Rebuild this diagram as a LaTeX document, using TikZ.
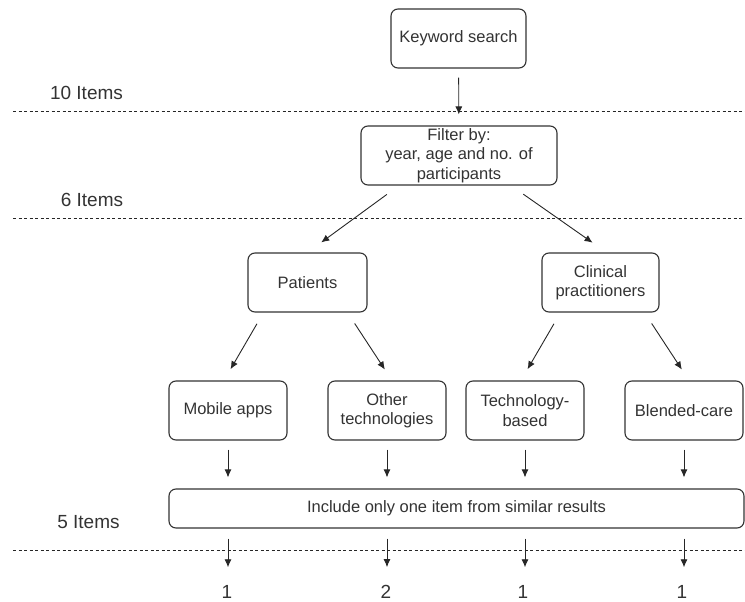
\documentclass[tikz,border=0pt]{standalone}
\usepackage{fontspec}
\setmainfont{Liberation Sans}
\usetikzlibrary{arrows.meta}

\begin{document}
\begin{tikzpicture}[x=1pt, y=-1pt, >={Latex[length=8pt,width=7pt]},
  default/.style={draw=black!80, line width=1.1pt, rounded corners=7pt, fill=white, solid,
    align=center, text=black!80, inner sep=0pt, font=\fontsize{16.5}{19.5}\selectfont},
  count/.style={text=black!80, inner sep=0pt, font=\fontsize{19}{22}\selectfont},
  level/.style={draw=black!85, line width=0.8pt, dash pattern=on 3pt off 2.5pt},
  link/.style={->, draw=black!85, line width=0.9pt}]
\useasboundingbox (0,0) rectangle (745,602);
\draw [level] (13,111) -- (745,111) ;
\draw [level] (13,218) -- (745,218) ;
\draw [level] (13,550) -- (745,550) ;
\node[count] (L10) at (86.5,93) {10 Items};
\node[count] (L6) at (92,200) {6 Items};
\node[count] (L5) at (88.5,522) {5 Items};
\node[default, minimum width=135pt, minimum height=59pt] (Search) at (458.5,38.5) {Keyword search};
\node[default, minimum width=196pt, minimum height=59pt] (Filter) at (459,155.5) {Filter by:\\year, age and no. of\\participants};
\node[default, minimum width=119pt, minimum height=59pt] (Patients) at (307.5,282.5) {Patients};
\node[default, minimum width=117pt, minimum height=59pt] (Clinical) at (600.5,282.5) {Clinical\\practitioners};
\node[default, minimum width=118pt, minimum height=59pt] (Mobile) at (228,410.5) {Mobile apps};
\node[default, minimum width=118pt, minimum height=59pt] (Other) at (387,410.5) {Other\\technologies};
\node[default, minimum width=118pt, minimum height=59pt] (Tech) at (525,410.5) {Technology-\\based};
\node[default, minimum width=118pt, minimum height=59pt] (Blended) at (684,410.5) {Blended-care};
\node[default, minimum width=575pt, minimum height=39pt] (Include) at (456.5,508.5) {Include only one item from similar results};
\node[count] (N1) at (227,592) {1};
\node[count] (N2) at (386,592) {2};
\node[count] (N3) at (523,592) {1};
\node[count] (N4) at (682,592) {1};
\draw [link, shorten <=9pt, shorten >=11pt] (Search) -- (Filter) ;
\draw [link, shorten <=15pt, shorten >=17pt] ([xshift=-60pt]Filter.south) -- (Patients.north) ;
\draw [link, shorten <=15pt, shorten >=17pt] ([xshift=52pt]Filter.south) -- ([xshift=6pt]Clinical.north) ;
\draw [link, shorten <=13pt, shorten >=13pt] ([xshift=-44pt]Patients.south) -- ([xshift=-4pt]Mobile.north) ;
\draw [link, shorten <=13pt, shorten >=13pt] ([xshift=40pt]Patients.south) -- ([xshift=5pt]Other.north) ;
\draw [link, shorten <=13pt, shorten >=13pt] ([xshift=-40pt]Clinical.south) -- ([xshift=-4pt]Tech.north) ;
\draw [link, shorten <=13pt, shorten >=13pt] ([xshift=44pt]Clinical.south) -- ([xshift=5pt]Blended.north) ;
\draw [link, shorten <=9pt, shorten >=11pt] (Mobile) -- (Mobile |- Include.north) ;
\draw [link, shorten <=9pt, shorten >=11pt] (Other) -- (Other |- Include.north) ;
\draw [link, shorten <=9pt, shorten >=11pt] (Tech) -- (Tech |- Include.north) ;
\draw [link, shorten <=9pt, shorten >=11pt] (Blended) -- (Blended |- Include.north) ;
\draw [link, shorten <=10pt, shorten >=18pt] (Mobile |- Include.south) -- (Mobile |- N1.north) ;
\draw [link, shorten <=10pt, shorten >=18pt] (Other |- Include.south) -- (Other |- N2.north) ;
\draw [link, shorten <=10pt, shorten >=18pt] (Tech |- Include.south) -- (Tech |- N3.north) ;
\draw [link, shorten <=10pt, shorten >=18pt] (Blended |- Include.south) -- (Blended |- N4.north) ;
\end{tikzpicture}
\end{document}
